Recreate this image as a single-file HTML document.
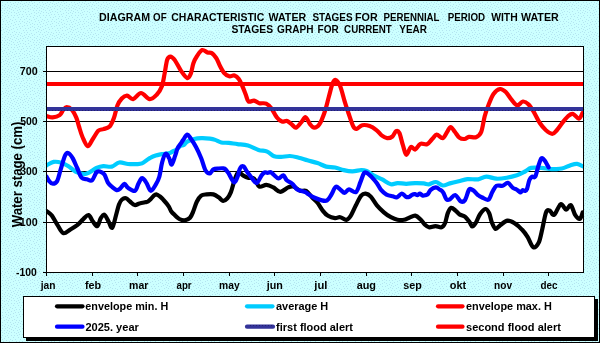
<!DOCTYPE html>
<html><head><meta charset="utf-8">
<style>
html,body{margin:0;padding:0;width:600px;height:343px;overflow:hidden;background:#CCFFFF;}
svg{position:absolute;left:0;top:0;display:block;will-change:transform;}
text{font-family:"Liberation Sans",sans-serif;font-weight:bold;fill:#000;}
</style></head>
<body>
<svg width="600" height="343" viewBox="0 0 600 343">
<defs>
<pattern id="dots" x="0" y="0" width="32" height="32" patternUnits="userSpaceOnUse">
<rect width="32" height="32" fill="#CCFFFF"/>
<path d="M15 8h1v1h-1zM23 30h1v1h-1zM4 0h1v1h-1zM30 16h1v1h-1zM14 12h1v1h-1zM30 30h1v1h-1zM25 9h1v1h-1zM24 0h1v1h-1zM4 10h1v1h-1zM2 19h1v1h-1zM1 17h1v1h-1zM30 24h1v1h-1zM27 25h1v1h-1zM28 8h1v1h-1zM23 6h1v1h-1zM2 8h1v1h-1zM31 13h1v1h-1zM16 27h1v1h-1zM19 26h1v1h-1zM24 22h1v1h-1zM26 14h1v1h-1zM21 1h1v1h-1zM17 10h1v1h-1zM20 6h1v1h-1zM13 17h1v1h-1zM18 7h1v1h-1zM30 5h1v1h-1zM22 4h1v1h-1zM7 2h1v1h-1zM2 24h1v1h-1zM21 17h1v1h-1zM15 2h1v1h-1zM19 0h1v1h-1zM4 6h1v1h-1zM2 12h1v1h-1zM26 18h1v1h-1zM20 23h1v1h-1zM8 24h1v1h-1zM15 19h1v1h-1zM27 16h1v1h-1zM19 21h1v1h-1zM0 26h1v1h-1zM3 21h1v1h-1zM29 22h1v1h-1zM31 1h1v1h-1zM23 16h1v1h-1zM29 19h1v1h-1zM20 11h1v1h-1zM23 11h1v1h-1zM19 14h1v1h-1zM17 15h1v1h-1zM27 6h1v1h-1zM6 20h1v1h-1zM13 28h1v1h-1zM12 20h1v1h-1zM22 8h1v1h-1zM17 29h1v1h-1zM22 26h1v1h-1zM26 2h1v1h-1zM12 0h1v1h-1zM30 27h1v1h-1zM4 18h1v1h-1zM7 15h1v1h-1zM2 2h1v1h-1zM10 19h1v1h-1zM22 14h1v1h-1zM12 7h1v1h-1zM7 10h1v1h-1zM8 0h1v1h-1zM0 3h1v1h-1zM2 5h1v1h-1zM31 20h1v1h-1zM2 27h1v1h-1zM17 4h1v1h-1zM7 29h1v1h-1zM30 9h1v1h-1zM15 24h1v1h-1zM2 15h1v1h-1zM11 4h1v1h-1zM5 24h1v1h-1zM10 26h1v1h-1zM10 6h1v1h-1zM28 11h1v1h-1zM8 17h1v1h-1zM11 23h1v1h-1zM26 30h1v1h-1zM1 30h1v1h-1zM14 15h1v1h-1zM4 13h1v1h-1zM10 2h1v1h-1zM5 16h1v1h-1zM18 2h1v1h-1zM16 6h1v1h-1zM11 9h1v1h-1zM24 3h1v1h-1zM28 4h1v1h-1zM7 7h1v1h-1zM11 12h1v1h-1zM25 12h1v1h-1zM20 19h1v1h-1zM9 8h1v1h-1zM14 31h1v1h-1zM25 28h1v1h-1zM11 29h1v1h-1zM7 22h1v1h-1zM18 17h1v1h-1zM24 19h1v1h-1zM25 5h1v1h-1zM0 7h1v1h-1zM26 23h1v1h-1zM18 24h1v1h-1zM1 10h1v1h-1zM11 15h1v1h-1zM27 21h1v1h-1zM16 21h1v1h-1zM3 29h1v1h-1zM6 26h1v1h-1zM24 25h1v1h-1zM20 3h1v1h-1zM9 11h1v1h-1zM0 23h1v1h-1zM9 30h1v1h-1zM22 21h1v1h-1zM8 5h1v1h-1zM29 14h1v1h-1zM18 12h1v1h-1zM27 0h1v1h-1zM5 8h1v1h-1zM28 28h1v1h-1zM16 13h1v1h-1zM8 27h1v1h-1zM20 28h1v1h-1zM14 5h1v1h-1zM13 3h1v1h-1zM16 0h1v1h-1zM6 12h1v1h-1zM5 28h1v1h-1zM5 4h1v1h-1zM13 25h1v1h-1zM19 9h1v1h-1zM6 31h1v1h-1zM14 22h1v1h-1zM8 13h1v1h-1zM9 21h1v1h-1zM29 2h1v1h-1zM13 10h1v1h-1z" fill="#B4E4F0"/>
</pattern>
<pattern id="navydots" x="0" y="0" width="3" height="3" patternUnits="userSpaceOnUse">
<rect width="3" height="3" fill="#333399"/><rect x="1" y="0" width="1" height="3" fill="#23206E"/>
</pattern>
</defs>
<rect x="0" y="0" width="600" height="343" fill="url(#dots)"/>
<rect x="0.5" y="0.5" width="599" height="342" fill="none" stroke="#000" stroke-width="1"/>
<text x="99.10" y="20.80" font-size="10" textLength="50.92" lengthAdjust="spacingAndGlyphs">DIAGRAM</text>
<text x="153.09" y="20.80" font-size="10" textLength="13.52" lengthAdjust="spacingAndGlyphs">OF</text>
<text x="171.31" y="20.80" font-size="10" textLength="92.99" lengthAdjust="spacingAndGlyphs">CHARACTERISTIC</text>
<text x="268.48" y="20.80" font-size="10" textLength="37.74" lengthAdjust="spacingAndGlyphs">WATER</text>
<text x="312.40" y="20.80" font-size="10" textLength="40.29" lengthAdjust="spacingAndGlyphs">STAGES</text>
<text x="355.04" y="20.80" font-size="10" textLength="22.68" lengthAdjust="spacingAndGlyphs">FOR</text>
<text x="383.56" y="20.80" font-size="10" textLength="55.98" lengthAdjust="spacingAndGlyphs">PERENNIAL</text>
<text x="447.65" y="20.80" font-size="10" textLength="37.51" lengthAdjust="spacingAndGlyphs">PERIOD</text>
<text x="491.18" y="20.80" font-size="10" textLength="26.53" lengthAdjust="spacingAndGlyphs">WITH</text>
<text x="520.98" y="20.80" font-size="10" textLength="37.74" lengthAdjust="spacingAndGlyphs">WATER</text>
<text x="231.44" y="32.60" font-size="10" textLength="41.67" lengthAdjust="spacingAndGlyphs">STAGES</text>
<text x="277.08" y="32.60" font-size="10" textLength="36.35" lengthAdjust="spacingAndGlyphs">GRAPH</text>
<text x="317.59" y="32.60" font-size="10" textLength="21.12" lengthAdjust="spacingAndGlyphs">FOR</text>
<text x="344.09" y="32.60" font-size="10" textLength="47.76" lengthAdjust="spacingAndGlyphs">CURRENT</text>
<text x="399.32" y="32.60" font-size="10" textLength="27.68" lengthAdjust="spacingAndGlyphs">YEAR</text>

<rect x="46.5" y="46.5" width="537" height="226" fill="#fff" stroke="#000" stroke-width="1"/>
<g stroke="#000" stroke-width="1" fill="none" shape-rendering="crispEdges">
<path d="M43 71.5H583 M43 121.5H583 M43 171.5H583 M43 222.5H583 M43 272.5H46"/>
<path d="M46.5 272V276 M92.5 272V276 M137.5 272V276 M183.5 272V276 M229.5 272V276 M274.5 272V276 M320.5 272V276 M366.5 272V276 M411.5 272V276 M457.5 272V276 M503.5 272V276 M548.5 272V276 "/>
</g>
<text x="19.80" y="74.75" font-size="10" textLength="17.88" lengthAdjust="spacingAndGlyphs">700</text>
<text x="20.16" y="125.00" font-size="10" textLength="17.51" lengthAdjust="spacingAndGlyphs">500</text>
<text x="20.25" y="175.30" font-size="10" textLength="17.42" lengthAdjust="spacingAndGlyphs">300</text>
<text x="19.84" y="225.60" font-size="10" textLength="17.85" lengthAdjust="spacingAndGlyphs">100</text>
<text x="15.99" y="275.80" font-size="10" textLength="20.72" lengthAdjust="spacingAndGlyphs">-100</text>

<text transform="translate(22.3 227.3) rotate(-90)" x="-0.03" font-size="13.8" textLength="105.67" lengthAdjust="spacingAndGlyphs">Water stage (cm)</text>
<text x="40.76" y="288.60" font-size="10.4" textLength="14.78" lengthAdjust="spacingAndGlyphs">jan</text>
<text x="84.91" y="288.60" font-size="10.4" textLength="16.23" lengthAdjust="spacingAndGlyphs">feb</text>
<text x="129.06" y="288.60" font-size="10.4" textLength="19.30" lengthAdjust="spacingAndGlyphs">mar</text>
<text x="176.51" y="288.60" font-size="10.4" textLength="15.13" lengthAdjust="spacingAndGlyphs">apr</text>
<text x="219.02" y="288.60" font-size="10.4" textLength="20.64" lengthAdjust="spacingAndGlyphs">may</text>
<text x="266.67" y="288.60" font-size="10.4" textLength="16.11" lengthAdjust="spacingAndGlyphs">jun</text>
<text x="314.38" y="288.60" font-size="10.4" textLength="13.11" lengthAdjust="spacingAndGlyphs">jul</text>
<text x="356.67" y="288.60" font-size="10.4" textLength="19.34" lengthAdjust="spacingAndGlyphs">aug</text>
<text x="403.31" y="288.60" font-size="10.4" textLength="18.53" lengthAdjust="spacingAndGlyphs">sep</text>
<text x="449.81" y="288.60" font-size="10.4" textLength="16.42" lengthAdjust="spacingAndGlyphs">okt</text>
<text x="494.03" y="288.60" font-size="10.4" textLength="18.01" lengthAdjust="spacingAndGlyphs">nov</text>
<text x="540.59" y="288.60" font-size="10.4" textLength="17.00" lengthAdjust="spacingAndGlyphs">dec</text>

<svg x="47" y="47" width="536" height="225" viewBox="47 47 536 225" overflow="hidden">
<g fill="none" stroke-width="4.2" stroke-linejoin="round" stroke-linecap="round">
<path d="M46.6 211.2 C47.5 211.9 50.1 213.4 51.9 215.6 C53.6 217.8 55.2 221.4 57.1 224.3 C59.0 227.2 61.0 232.2 63.2 233.1 C65.4 234.0 67.9 230.9 70.2 229.6 C72.5 228.3 75.0 226.9 77.2 225.2 C79.4 223.4 81.4 220.8 83.3 219.1 C85.2 217.4 87.0 214.7 88.6 215.1 C90.2 215.5 91.5 219.9 93.0 221.7 C94.5 223.5 96.0 226.7 97.3 226.1 C98.6 225.5 99.6 220.1 100.8 218.2 C102.0 216.3 103.0 214.1 104.3 214.7 C105.6 215.3 107.4 219.5 108.7 221.7 C110.0 223.9 111.0 228.7 112.2 227.8 C113.4 226.9 114.6 220.4 115.7 216.5 C116.8 212.6 118.0 207.3 119.0 204.5 C120.0 201.7 120.8 200.5 122.0 199.5 C123.2 198.5 124.7 198.0 126.0 198.3 C127.3 198.6 128.6 200.4 130.0 201.5 C131.4 202.6 133.1 204.7 134.7 205.0 C136.3 205.3 137.8 203.9 139.5 203.5 C141.2 203.1 143.6 202.6 145.0 202.3 C146.4 202.0 147.0 202.1 148.0 201.5 C149.0 200.9 150.1 199.7 151.0 198.8 C151.9 197.9 152.6 196.8 153.5 196.0 C154.4 195.2 155.2 194.2 156.3 194.3 C157.4 194.4 158.8 195.6 160.0 196.5 C161.2 197.4 161.9 198.1 163.3 199.7 C164.8 201.3 167.4 204.3 168.7 206.3 C170.0 208.3 170.3 210.1 171.3 211.5 C172.3 212.9 173.2 213.6 174.5 214.8 C175.8 216.1 177.6 218.1 179.3 219.0 C181.0 219.9 182.9 220.5 184.7 220.3 C186.5 220.1 188.6 219.2 190.0 217.7 C191.4 216.2 192.2 214.0 193.3 211.3 C194.4 208.6 195.5 204.3 196.8 201.7 C198.1 199.1 199.6 196.8 201.2 195.6 C202.8 194.4 204.4 194.6 206.4 194.4 C208.4 194.2 211.4 193.9 213.4 194.4 C215.4 194.9 217.1 196.2 218.7 197.3 C220.3 198.4 221.6 200.7 223.0 200.8 C224.4 201.0 226.1 199.6 227.4 198.2 C228.7 196.8 229.7 195.0 230.9 192.1 C232.1 189.2 233.2 183.8 234.4 180.5 C235.6 177.2 236.8 173.1 238.2 172.2 C239.6 171.3 241.1 174.3 242.7 175.2 C244.3 176.1 246.1 177.2 248.0 177.8 C249.9 178.4 252.2 177.2 254.1 178.7 C256.0 180.2 257.3 185.6 259.3 186.6 C261.3 187.6 264.0 184.7 266.3 184.8 C268.6 184.9 271.0 186.2 273.3 187.4 C275.6 188.6 277.8 191.8 280.3 191.8 C282.8 191.8 286.0 188.3 288.2 187.4 C290.4 186.5 291.4 186.0 293.4 186.6 C295.4 187.2 298.1 190.1 300.2 190.8 C302.3 191.5 304.1 189.7 306.1 190.8 C308.1 191.9 310.3 195.5 312.2 197.5 C314.1 199.5 315.8 200.5 317.5 202.7 C319.2 204.9 320.9 208.4 322.7 210.6 C324.4 212.8 325.9 214.6 328.0 215.8 C330.1 217.1 333.0 217.9 335.0 218.1 C337.0 218.3 338.3 216.9 340.2 217.2 C342.1 217.5 344.6 220.1 346.3 219.9 C348.1 219.7 349.1 218.2 350.7 215.8 C352.3 213.4 354.1 208.7 355.9 205.3 C357.6 202.0 359.6 197.6 361.2 195.7 C362.8 193.8 364.0 193.4 365.6 193.6 C367.2 193.8 368.9 194.6 370.8 196.6 C372.7 198.6 374.7 202.7 376.9 205.3 C379.1 207.9 381.6 210.3 383.9 212.3 C386.2 214.3 388.6 216.0 390.9 217.2 C393.2 218.4 395.3 219.3 397.5 219.7 C399.7 220.1 402.1 220.1 404.0 219.8 C405.9 219.5 407.3 218.4 409.2 217.7 C411.1 217.0 413.4 215.3 415.3 215.6 C417.2 215.9 419.0 218.0 420.6 219.5 C422.2 221.0 423.6 223.4 425.0 224.7 C426.4 226.0 427.6 227.1 429.3 227.3 C431.1 227.5 433.4 226.1 435.5 226.1 C437.6 226.1 440.0 227.8 441.6 227.3 C443.2 226.8 444.1 225.3 445.1 223.0 C446.1 220.7 446.7 215.9 447.7 213.4 C448.7 210.9 449.9 208.2 451.2 207.8 C452.5 207.4 454.2 209.6 455.6 210.7 C457.1 211.8 458.3 213.6 459.9 214.6 C461.5 215.6 463.6 215.7 465.2 216.9 C466.8 218.2 468.3 220.5 469.5 222.1 C470.7 223.7 471.2 226.3 472.2 226.5 C473.2 226.7 474.4 225.1 475.7 223.0 C477.0 220.9 478.4 216.5 480.0 214.2 C481.6 211.9 483.9 209.2 485.4 209.0 C486.9 208.8 488.1 211.1 489.2 213.3 C490.3 215.6 490.8 219.9 491.9 222.5 C493.0 225.1 494.2 228.4 495.6 228.9 C497.0 229.4 498.2 226.6 500.2 225.2 C502.2 223.9 505.1 221.0 507.5 220.7 C509.9 220.4 512.3 221.9 514.8 223.4 C517.2 224.9 520.1 227.5 522.2 229.8 C524.4 232.1 525.9 234.3 527.7 237.2 C529.5 240.1 531.4 246.3 533.2 247.2 C535.0 248.2 537.2 245.8 538.7 242.7 C540.2 239.6 541.1 233.9 542.3 228.9 C543.5 223.9 544.8 215.5 546.0 212.4 C547.2 209.3 548.3 210.2 549.7 210.6 C551.1 211.0 552.4 215.9 554.2 214.8 C556.1 213.7 558.7 205.0 560.7 204.2 C562.7 203.3 564.5 209.5 566.2 209.7 C567.9 209.8 569.2 204.2 570.8 205.1 C572.3 206.0 573.8 212.9 575.3 215.2 C576.8 217.5 578.7 219.3 579.9 218.8 C581.1 218.3 582.2 213.5 582.7 212.4" stroke="#000"/>
<path d="M46.6 165.3 C47.8 164.7 51.1 162.3 53.6 161.9 C56.1 161.5 59.0 162.0 61.5 162.7 C64.0 163.4 66.2 164.7 68.5 166.2 C70.8 167.7 72.9 170.2 75.5 171.5 C78.1 172.8 81.9 174.0 84.2 174.1 C86.5 174.2 87.5 173.3 89.5 172.3 C91.5 171.3 94.1 169.0 96.4 168.0 C98.7 167.0 100.8 166.4 103.4 166.2 C106.0 166.0 109.2 167.2 111.8 166.6 C114.4 166.0 116.5 162.9 119.2 162.5 C121.9 162.1 125.1 163.7 128.0 164.0 C130.9 164.3 134.4 164.2 136.7 164.1 C139.0 164.0 140.3 164.1 142.0 163.4 C143.7 162.7 145.6 161.0 147.0 160.0 C148.4 159.0 149.2 158.3 150.7 157.6 C152.1 156.9 154.2 156.1 155.7 155.6 C157.1 155.1 157.9 154.9 159.4 154.6 C160.9 154.3 162.8 154.1 164.5 153.8 C166.2 153.5 168.5 153.3 169.9 152.9 C171.3 152.5 172.0 151.8 173.2 151.2 C174.4 150.6 175.7 150.3 176.9 149.4 C178.1 148.5 179.0 146.7 180.2 146.0 C181.4 145.3 182.7 145.7 183.9 145.0 C185.1 144.3 185.5 142.6 187.2 141.6 C188.9 140.6 191.9 139.6 194.2 139.0 C196.5 138.4 198.6 138.2 201.2 138.1 C203.8 138.0 207.6 138.3 209.9 138.6 C212.2 138.9 213.3 139.2 215.2 139.9 C217.1 140.6 219.1 142.0 221.3 142.5 C223.6 143.0 226.0 142.6 228.7 142.9 C231.4 143.2 234.3 143.7 237.5 144.1 C240.7 144.5 244.5 144.5 248.0 145.5 C251.5 146.5 255.3 148.9 258.5 149.9 C261.7 150.9 264.6 150.5 267.2 151.6 C269.8 152.7 271.9 155.4 274.2 156.3 C276.5 157.2 278.6 157.0 281.2 156.9 C283.8 156.8 287.0 155.9 289.9 156.0 C292.8 156.1 295.8 157.0 298.7 157.7 C301.6 158.4 304.3 159.4 307.4 160.3 C310.5 161.2 314.4 162.1 317.5 163.1 C320.6 164.1 323.3 165.9 326.2 166.6 C329.1 167.3 332.1 166.9 335.0 167.5 C337.9 168.1 340.8 169.4 343.7 170.1 C346.6 170.8 349.5 171.4 352.4 171.4 C355.3 171.4 358.9 170.1 361.2 170.0 C363.5 169.9 364.4 170.1 366.4 171.0 C368.4 171.9 370.8 173.9 373.4 175.3 C376.0 176.7 379.3 177.9 382.2 179.4 C385.1 180.9 388.3 183.6 390.9 184.2 C393.4 184.8 394.9 183.2 397.5 183.1 C400.1 183.0 403.3 183.8 406.2 183.8 C409.1 183.8 412.1 183.2 415.0 183.1 C417.9 183.0 421.4 183.2 423.7 183.4 C426.0 183.6 427.0 184.5 429.0 184.3 C431.0 184.1 433.6 181.8 435.9 182.0 C438.2 182.2 440.6 185.3 442.9 185.5 C445.2 185.7 447.3 184.1 449.9 183.4 C452.5 182.7 455.8 181.9 458.7 181.2 C461.6 180.5 464.1 179.4 467.4 179.1 C470.6 178.8 475.0 179.7 478.2 179.3 C481.4 178.9 483.2 176.7 486.3 176.6 C489.4 176.5 493.1 178.5 496.5 178.7 C499.9 178.9 503.3 178.3 506.7 177.7 C510.1 177.1 513.8 176.2 516.9 175.2 C520.0 174.2 522.7 172.7 525.1 171.5 C527.5 170.3 528.5 168.5 531.2 167.9 C533.9 167.3 538.0 167.7 541.4 167.9 C544.8 168.1 548.2 169.0 551.6 169.1 C555.0 169.2 558.7 169.1 561.8 168.5 C564.9 167.9 567.5 166.2 570.0 165.4 C572.5 164.6 574.9 163.6 577.1 163.8 C579.3 164.0 582.0 166.0 583.0 166.4" stroke="#00CCFF"/>
<path d="M46.6 116.0 C47.6 116.2 50.5 117.6 52.7 117.4 C54.9 117.2 58.0 116.3 59.7 115.1 C61.5 113.8 62.0 111.2 63.2 109.9 C64.4 108.6 65.2 107.2 66.7 107.2 C68.2 107.2 70.4 108.2 72.0 109.9 C73.6 111.7 75.1 114.9 76.3 117.7 C77.5 120.5 78.0 123.3 79.0 126.5 C80.0 129.7 81.0 133.7 82.5 137.0 C84.0 140.3 86.0 145.9 87.7 146.2 C89.5 146.5 91.2 141.3 93.0 138.7 C94.8 136.1 96.5 132.4 98.2 130.8 C99.9 129.2 101.5 129.8 103.4 129.1 C105.3 128.4 107.8 128.4 109.6 126.5 C111.4 124.6 112.7 121.2 114.0 117.7 C115.3 114.2 116.1 108.7 117.4 105.5 C118.7 102.3 120.2 100.2 121.8 98.5 C123.4 96.8 125.1 95.5 127.0 95.6 C128.9 95.7 130.8 99.5 133.1 99.1 C135.4 98.7 138.2 93.0 141.0 93.0 C143.8 93.0 147.1 98.8 149.7 99.1 C152.3 99.4 154.6 96.9 156.7 94.7 C158.8 92.5 160.7 89.5 162.0 86.0 C163.3 82.5 163.7 78.1 164.6 73.7 C165.5 69.3 166.2 62.6 167.2 59.7 C168.2 56.9 169.4 56.5 170.7 56.6 C172.0 56.8 173.3 58.2 175.1 60.6 C176.8 63.0 179.2 68.2 181.2 71.1 C183.2 74.0 185.7 77.7 187.3 78.1 C188.9 78.5 189.8 76.2 190.8 73.7 C191.8 71.2 192.4 66.1 193.4 63.2 C194.4 60.3 195.4 58.4 196.9 56.2 C198.4 54.0 200.4 50.7 202.2 50.1 C203.9 49.5 205.8 51.9 207.4 52.4 C209.0 52.9 210.3 52.2 211.8 53.1 C213.3 54.0 214.8 55.9 216.2 58.0 C217.6 60.1 218.7 63.5 220.0 66.0 C221.3 68.5 222.5 71.1 224.0 72.8 C225.5 74.5 227.4 75.8 229.2 76.3 C230.9 76.8 232.9 75.0 234.5 75.5 C236.1 76.0 237.5 77.2 238.8 79.0 C240.1 80.8 241.1 83.4 242.3 86.0 C243.5 88.6 244.8 92.1 245.8 94.7 C246.8 97.3 247.1 100.5 248.5 101.5 C249.9 102.5 252.2 100.3 254.0 100.6 C255.8 100.9 257.2 102.7 259.2 103.2 C261.2 103.7 264.1 102.7 266.2 103.6 C268.2 104.5 269.8 106.2 271.5 108.5 C273.2 110.8 274.9 115.0 276.7 117.2 C278.4 119.4 280.2 121.0 282.0 121.6 C283.8 122.2 285.5 120.4 287.2 121.0 C288.9 121.6 290.9 123.9 292.4 125.0 C293.9 126.1 294.5 128.1 296.0 127.7 C297.5 127.3 299.6 124.2 301.2 122.4 C302.8 120.7 304.1 116.9 305.6 117.2 C307.1 117.5 308.6 122.5 310.0 124.2 C311.4 126.0 312.7 127.7 314.3 127.7 C315.9 127.7 317.8 126.8 319.5 124.2 C321.2 121.6 323.0 116.8 324.6 112.2 C326.2 107.6 327.6 101.2 328.9 96.5 C330.2 91.8 331.3 86.8 332.4 84.0 C333.5 81.2 334.4 79.7 335.7 80.0 C337.0 80.3 338.6 82.5 340.1 86.0 C341.6 89.5 343.1 96.1 344.5 100.8 C345.9 105.5 347.4 109.8 348.8 114.0 C350.2 118.2 351.9 123.7 353.2 126.2 C354.5 128.7 355.2 129.0 356.7 128.8 C358.2 128.6 360.1 125.7 362.3 125.2 C364.5 124.7 367.3 125.2 369.7 126.0 C372.1 126.8 374.6 128.7 376.7 130.3 C378.8 131.9 380.2 134.3 382.0 135.6 C383.8 136.9 385.5 138.0 387.2 138.2 C388.9 138.3 390.9 137.7 392.4 136.5 C393.9 135.3 394.8 131.8 396.0 131.2 C397.2 130.6 398.2 130.7 399.4 133.0 C400.5 135.3 401.7 141.6 402.9 145.2 C404.1 148.8 405.1 154.5 406.4 154.8 C407.7 155.1 409.3 147.9 410.8 147.0 C412.3 146.1 413.6 150.1 415.2 149.6 C416.8 149.1 418.4 144.7 420.4 143.8 C422.4 142.9 425.0 145.0 427.0 144.2 C429.0 143.4 430.6 140.6 432.2 139.0 C433.8 137.4 434.9 134.8 436.6 134.6 C438.4 134.4 440.9 138.5 442.7 138.1 C444.4 137.7 445.8 133.8 447.1 132.0 C448.4 130.2 449.3 127.1 450.6 127.1 C451.9 127.1 453.6 130.2 455.0 132.0 C456.4 133.8 457.7 136.4 459.3 137.6 C460.9 138.8 463.0 139.1 464.6 139.0 C466.2 138.9 467.1 137.2 469.0 136.9 C470.9 136.6 474.0 138.0 476.0 137.2 C478.0 136.4 479.8 135.5 481.2 132.0 C482.6 128.5 483.5 120.7 484.7 116.2 C485.9 111.7 487.0 108.7 488.5 105.0 C490.0 101.3 491.6 96.7 493.5 94.0 C495.4 91.3 497.9 89.3 500.0 89.0 C502.1 88.7 503.9 90.3 505.8 92.1 C507.7 93.9 509.6 97.4 511.5 99.6 C513.4 101.8 515.3 105.0 517.2 105.3 C519.1 105.6 521.0 101.7 522.9 101.5 C524.8 101.3 526.7 102.5 528.6 104.4 C530.5 106.3 532.4 109.8 534.3 112.9 C536.2 116.1 538.1 120.5 540.0 123.3 C541.9 126.1 543.7 128.2 545.7 130.0 C547.8 131.8 550.4 133.8 552.3 133.8 C554.2 133.8 555.3 131.9 557.0 130.0 C558.7 128.1 560.8 124.8 562.7 122.4 C564.6 120.0 566.7 117.2 568.4 115.8 C570.1 114.4 571.4 113.4 573.1 113.9 C574.8 114.4 577.2 118.8 578.8 118.6 C580.4 118.4 582.0 113.9 582.6 112.9" stroke="#FF0000"/>
<path d="M46.6 176.7 C47.0 177.4 48.2 179.9 49.2 181.1 C50.2 182.3 51.4 183.7 52.7 183.7 C54.0 183.7 55.8 183.4 57.1 181.1 C58.4 178.8 59.3 173.9 60.6 169.7 C61.9 165.5 63.7 158.5 65.0 155.7 C66.3 152.9 67.2 152.6 68.5 153.1 C69.8 153.6 71.3 155.9 72.8 158.4 C74.2 160.9 75.7 164.8 77.2 168.0 C78.7 171.2 80.0 175.7 81.6 177.6 C83.2 179.5 85.0 178.9 86.8 179.3 C88.5 179.7 90.5 181.4 92.1 180.2 C93.7 179.0 95.1 173.8 96.4 172.3 C97.7 170.9 98.6 171.1 99.9 171.5 C101.2 171.9 103.1 172.7 104.4 174.5 C105.7 176.3 106.6 180.5 107.9 182.6 C109.2 184.7 110.8 185.8 112.2 187.0 C113.7 188.2 115.3 189.8 116.6 190.1 C117.9 190.4 118.8 189.8 120.1 188.7 C121.4 187.6 123.2 184.0 124.5 183.8 C125.8 183.7 126.2 186.6 128.0 187.8 C129.8 189.0 133.2 191.5 135.0 190.8 C136.8 190.1 137.3 185.6 138.5 183.5 C139.7 181.4 140.7 178.3 142.0 178.2 C143.3 178.0 144.9 180.5 146.3 182.6 C147.8 184.7 149.1 190.5 150.7 190.8 C152.3 191.1 154.4 186.7 155.9 184.3 C157.4 181.9 158.4 180.1 159.4 176.5 C160.4 172.9 161.1 166.3 162.1 162.5 C163.1 158.7 164.4 154.4 165.6 153.7 C166.8 153.0 168.1 156.3 169.1 158.1 C170.1 159.9 170.7 165.0 171.7 164.6 C172.7 164.2 174.2 158.2 175.2 155.5 C176.2 152.8 176.6 150.5 177.5 148.5 C178.4 146.5 179.7 145.2 180.7 143.7 C181.7 142.2 182.2 141.2 183.3 139.7 C184.4 138.2 186.0 134.8 187.2 134.6 C188.4 134.4 189.2 136.4 190.7 138.5 C192.2 140.6 194.2 143.6 196.0 146.9 C197.8 150.2 199.6 154.3 201.2 158.2 C202.8 162.1 204.1 168.0 205.6 170.5 C207.1 173.0 208.6 173.6 209.9 173.4 C211.2 173.2 211.9 170.2 213.4 169.4 C214.9 168.6 217.1 168.7 218.7 168.5 C220.3 168.3 221.8 168.2 223.0 168.3 C224.2 168.5 224.8 168.5 225.7 169.4 C226.6 170.3 227.3 171.4 228.7 173.5 C230.1 175.6 232.5 181.6 234.0 182.2 C235.5 182.8 236.5 179.3 237.5 177.0 C238.5 174.7 239.1 169.9 240.1 168.2 C241.1 166.4 242.4 165.9 243.6 166.5 C244.8 167.1 245.6 169.7 247.1 171.7 C248.6 173.7 250.7 176.8 252.3 178.7 C253.9 180.6 255.2 183.6 256.7 183.1 C258.2 182.6 260.2 177.3 261.5 175.5 C262.8 173.7 263.5 172.9 264.5 172.5 C265.5 172.1 266.4 172.9 267.5 172.8 C268.6 172.8 269.7 171.8 270.8 172.2 C271.9 172.6 272.7 173.9 274.0 175.0 C275.3 176.1 276.9 178.4 278.5 178.5 C280.1 178.6 282.0 175.1 283.3 175.3 C284.6 175.6 285.3 178.8 286.5 180.0 C287.7 181.2 289.4 181.8 290.5 182.5 C291.6 183.2 291.9 183.3 293.0 184.5 C294.1 185.7 295.7 188.4 297.3 189.5 C298.9 190.6 301.3 190.9 302.7 191.3 C304.1 191.8 304.6 191.8 305.5 192.2 C306.4 192.6 306.6 193.1 308.0 194.0 C309.4 194.9 311.8 196.5 314.0 197.5 C316.2 198.5 318.8 199.6 321.0 200.1 C323.2 200.6 325.4 201.4 327.1 200.4 C328.9 199.4 330.1 196.6 331.5 194.3 C332.9 192.0 334.4 187.6 335.8 186.8 C337.2 186.0 338.7 188.4 340.2 189.4 C341.7 190.4 343.1 192.9 344.6 192.9 C346.1 192.9 347.1 189.5 349.0 189.4 C350.9 189.3 354.0 193.3 355.9 192.1 C357.8 190.9 359.0 185.5 360.3 182.4 C361.6 179.3 362.8 175.0 363.8 173.4 C364.8 171.8 365.1 172.0 366.4 172.6 C367.7 173.2 369.9 175.3 371.7 177.1 C373.4 178.9 375.3 181.0 376.9 183.2 C378.5 185.4 379.7 188.3 381.3 190.2 C382.9 192.1 384.6 193.6 386.5 194.6 C388.4 195.6 390.9 195.9 392.7 196.3 C394.4 196.7 395.5 197.7 397.0 197.2 C398.5 196.7 400.4 193.6 401.9 193.5 C403.4 193.4 404.8 196.2 406.0 196.8 C407.2 197.4 408.0 197.3 409.0 197.0 C410.0 196.7 411.0 195.3 412.0 194.8 C413.0 194.3 414.1 194.1 415.0 194.2 C415.9 194.3 416.7 195.3 417.5 195.2 C418.3 195.1 419.2 193.4 420.0 193.5 C420.8 193.6 421.6 195.2 422.5 195.5 C423.4 195.8 424.6 195.4 425.5 195.2 C426.4 194.9 427.1 194.9 428.0 194.0 C428.9 193.1 429.4 191.0 430.7 189.9 C432.0 188.8 434.4 187.5 435.9 187.4 C437.4 187.3 438.6 189.0 439.5 189.5 C440.4 190.0 440.8 189.9 441.5 190.5 C442.2 191.1 442.7 191.5 443.5 193.0 C444.3 194.5 445.3 198.2 446.4 199.3 C447.5 200.4 448.4 200.0 449.9 199.3 C451.4 198.6 453.4 194.7 455.2 195.0 C456.9 195.3 458.8 200.2 460.4 201.1 C462.0 202.0 463.3 202.3 464.8 200.4 C466.3 198.5 467.8 191.1 469.2 189.5 C470.6 187.9 472.1 189.7 473.5 190.6 C474.9 191.5 476.4 193.8 477.9 195.0 C479.3 196.2 480.4 196.7 482.2 197.5 C483.9 198.3 486.7 200.6 488.4 199.7 C490.1 198.8 491.0 194.2 492.4 191.9 C493.8 189.6 494.8 186.8 496.5 185.8 C498.2 184.8 500.8 186.3 502.7 185.8 C504.6 185.3 506.1 182.5 507.8 182.8 C509.5 183.2 511.4 186.8 512.9 187.9 C514.4 189.0 515.6 189.0 516.5 189.5 C517.4 190.0 517.8 190.5 518.5 191.0 C519.2 191.5 519.8 192.6 520.5 192.5 C521.2 192.4 521.8 190.4 522.5 190.2 C523.2 189.9 524.2 191.2 525.0 191.0 C525.8 190.8 526.3 190.8 527.0 189.0 C527.7 187.2 528.5 182.1 529.4 180.0 C530.3 177.9 531.2 177.2 532.2 176.6 C533.2 176.0 534.3 178.4 535.3 176.6 C536.3 174.8 537.4 169.0 538.4 166.0 C539.4 163.0 540.4 159.3 541.4 158.4 C542.4 157.5 543.3 158.8 544.5 160.3 C545.7 161.8 547.9 166.2 548.6 167.4" stroke="#0000FF"/>
</g>
<rect x="47" y="107" width="536" height="4" fill="#333399"/>
<rect x="47" y="110" width="536" height="1" fill="url(#navydots)"/>
<rect x="47" y="82" width="536" height="4" fill="#FF0000"/>
<g>
</g>
</svg>
<rect x="26" y="299" width="572" height="42" fill="#000"/>
<rect x="23.5" y="296.5" width="571" height="41" fill="#fff" stroke="#000" stroke-width="1"/>
<g stroke-width="4.2" stroke-linecap="round">
<path d="M57 306.3H82.5" stroke="#000"/>
<path d="M247 306.3H272.5" stroke="#00CCFF"/>
<path d="M438 306.3H462.5" stroke="#FF0000"/>
<path d="M57 326.7H82.5" stroke="#0000FF"/>
<path d="M247 326.7H273" stroke="#333399"/>
<path d="M438 326.7H462.5" stroke="#FF0000"/>
</g>
<rect x="248" y="325" width="25" height="1" fill="url(#navydots)"/>
<text x="85.37" y="310.00" font-size="10.8" textLength="82.87" lengthAdjust="spacingAndGlyphs">envelope min. H</text>
<text x="275.97" y="310.00" font-size="10.8" textLength="52.28" lengthAdjust="spacingAndGlyphs">average H</text>
<text x="465.96" y="310.00" font-size="10.8" textLength="85.88" lengthAdjust="spacingAndGlyphs">envelope max. H</text>
<text x="85.42" y="330.80" font-size="10.8" textLength="53.45" lengthAdjust="spacingAndGlyphs">2025. year</text>
<text x="276.10" y="330.80" font-size="10.8" textLength="76.84" lengthAdjust="spacingAndGlyphs">first flood alert</text>
<text x="466.00" y="330.80" font-size="10.8" textLength="94.93" lengthAdjust="spacingAndGlyphs">second flood alert</text>

</svg>
</body></html>
